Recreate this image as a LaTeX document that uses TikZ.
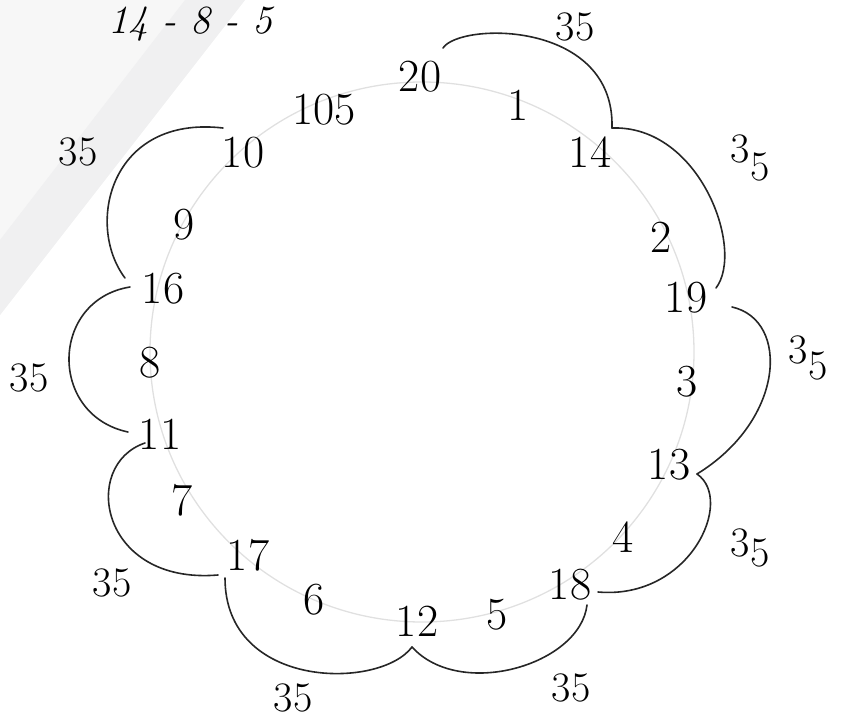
\documentclass[tikz,border=0pt]{standalone}
\usepackage{tikz}
\usetikzlibrary{calc}

\begin{document}
\begin{tikzpicture}[
    x=1pt, y=-1pt,
    num/.style={font=\fontsize{46}{50}\selectfont, inner sep=0pt},
    sum/.style={font=\fontsize{42}{46}\selectfont, inner sep=0pt},
    scallop/.style={line width=1.6pt, black!85, line cap=round},
    ring/.style={line width=1.3pt, black!12}
]
\useasboundingbox (0,0) rectangle (855,719);
% paper edge of the scan
\fill[black!3] (0,0) -- (245,0) -- (0,315) -- cycle;
\fill[blue!12!black!6] (185,0) -- (245,0) -- (0,315) -- (0,240) -- cycle;

% the ring
\draw[ring] (422,352) ellipse [x radius=272, y radius=270];

% heading
\node[font=\fontsize{40}{44}\selectfont\itshape, inner sep=0pt] (head) at (190,24) {14 - 8 - 5};

% numbers on the ring
\node[num] (n20) at (420,77) {20};
\node[num] (n1) at (518,105) {1};
\node[num] (n14) at (590,152) {14};
\node[num] (n2) at (661,237) {2};
\node[num] (n19) at (686,298) {19};
\node[num] (n3) at (687,382) {3};
\node[num] (n13) at (669,465) {13};
\node[num] (n4) at (623,537) {4};
\node[num] (n18) at (570,585) {18};
\node[num] (n5) at (497,615) {5};
\node[num] (n12) at (417,621) {12};
\node[num] (n6) at (314,600) {6};
\node[num] (n17) at (248,555) {17};
\node[num] (n7) at (182,500) {7};
\node[num] (n11) at (160,434) {11};
\node[num] (n8) at (150,363) {8};
\node[num] (n16) at (163,289) {16};
\node[num] (n9) at (184,225) {9};
\node[num] (n10) at (243,153) {10};
\node[num] (n105) at (324,110) {105};

% ends of the scallops
\coordinate (e20) at (443,48);
\coordinate (e14) at (612,128);
\coordinate (e19a) at (716,288);
\coordinate (e19b) at (732,307);
\coordinate (e13) at (697,474);
\coordinate (e18a) at (598,592);
\coordinate (e18b) at (587,605);
\coordinate (e12) at (412,647);
\coordinate (e17a) at (225,578);
\coordinate (e17b) at (218,575);
\coordinate (e11a) at (145,443);
\coordinate (e11b) at (128,432);
\coordinate (e16a) at (130,287);
\coordinate (e16b) at (125,278);
\coordinate (e10) at (223,128);

% scallops
\draw[scallop] (e20) .. controls (460,22) and (615,20) .. (e14);
\draw[scallop] (e14) .. controls (700,125) and (745,250) .. (e19a);
\draw[scallop] (e19b) .. controls (790,320) and (785,420) .. (e13);
\draw[scallop] (e13) .. controls (735,500) and (690,600) .. (e18a);
\draw[scallop] (e18b) .. controls (580,665) and (460,700) .. (e12);
\draw[scallop] (e12) .. controls (380,690) and (225,690) .. (e17a);
\draw[scallop] (e17b) .. controls (100,585) and (80,465) .. (e11a);
\draw[scallop] (e11b) .. controls (48,415) and (50,300) .. (e16a);
\draw[scallop] (e16b) .. controls (85,225) and (110,115) .. (e10);

% sums
\node[sum] (s1) at (575,27) {35};
\node[sum] (s2) at (750,158) {3\raisebox{-0.45em}{5}};
\node[sum] (s3) at (808,358) {3\raisebox{-0.4em}{5}};
\node[sum] (s4) at (750,548) {3\raisebox{-0.25em}{5}};
\node[sum] (s5) at (571,688) {35};
\node[sum] (s6) at (293,698) {35};
\node[sum] (s7) at (112,583) {35};
\node[sum] (s8) at (29,378) {35};
\node[sum] (s9) at (78,152) {35};
\end{tikzpicture}
\end{document}
